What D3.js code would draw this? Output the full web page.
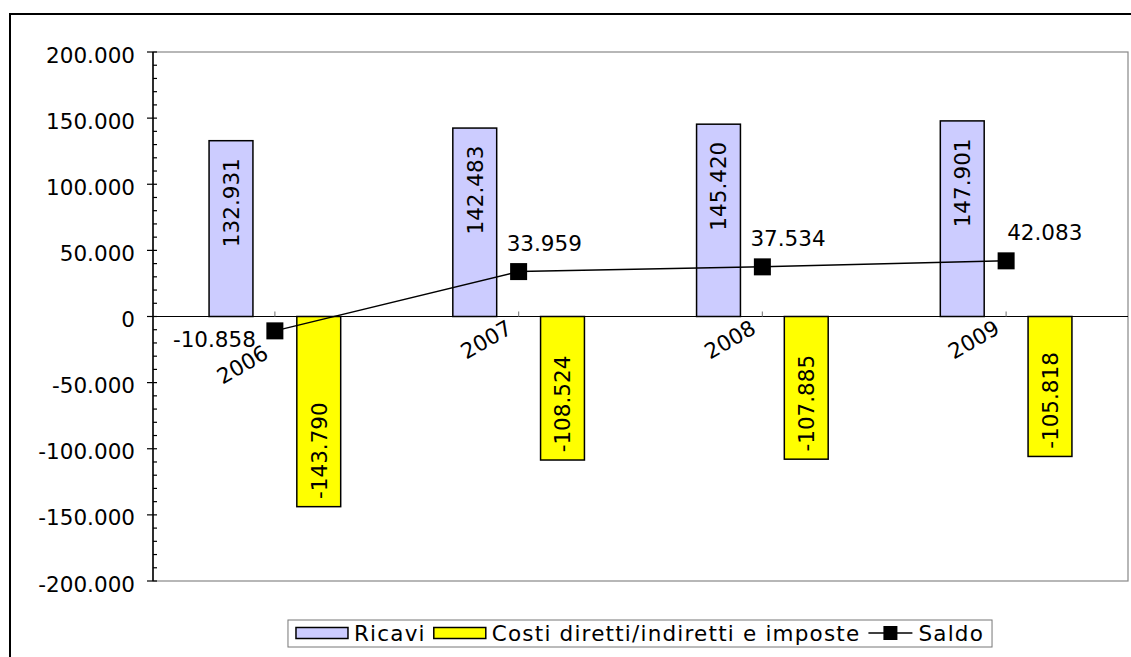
<!DOCTYPE html>
<html><head><meta charset="utf-8">
<script src="https://cdn.jsdelivr.net/npm/d3@7"></script>
<style>
html,body{margin:0;padding:0;background:#fff;}
text{font-family:"DejaVu Sans",Verdana,sans-serif;fill:#000;}
</style></head>
<body>
<svg id="chart" width="1131" height="657"></svg>
<script>
const years = ["2006","2007","2008","2009"];
const ricavi = [132931, 142483, 145420, 147901];
const costi = [-143790, -108524, -107885, -105818];
const saldo = [-10858, 33959, 37534, 42083];
const yTicks = [-200000,-150000,-100000,-50000,0,50000,100000,150000,200000];
const legendLabels = ["Ricavi","Costi diretti/indiretti e imposte","Saldo"];

const svg = d3.select("#chart");
const L = 153, R = 1128, T = 52, B = 581;
const FS = 21.5;
const loc = d3.formatLocale({decimal:",", thousands:".", grouping:[3], currency:["",""], minus:"-"});
const fmt = loc.format(",d");

const x = d3.scaleBand().domain(years).range([L,R]).padding(0);
const y = d3.scaleLinear().domain([-200000,200000]).range([B,T]);
const bw = x.bandwidth()*0.18;
const cx = d => x(d)+x.bandwidth()/2;

// outer frame
svg.append("rect").attr("x",10).attr("y",14).attr("width",1130).attr("height",660)
  .attr("fill","none").attr("stroke","#000").attr("stroke-width",2);

// plot area border (gray)
svg.append("rect").attr("x",L).attr("y",T).attr("width",R-L).attr("height",B-T)
  .attr("fill","#fff").attr("stroke","#888").attr("stroke-width",1.2);

// y axis
const yAxis = d3.axisLeft(y).tickValues(yTicks).tickSize(0).tickFormat(fmt);
const gy = svg.append("g").attr("transform",`translate(${L},0)`).call(yAxis);
gy.select(".domain").remove();
gy.selectAll("text").attr("x",-18).attr("dy","0.47em").style("font-size",FS+"px")
  .style("font-family","'DejaVu Sans',Verdana,sans-serif").attr("fill","#000");
svg.append("g").selectAll("line").data(yTicks).join("line")
  .attr("x1",L-6).attr("x2",L+4).attr("y1",d=>y(d)).attr("y2",d=>y(d))
  .attr("stroke","#000").attr("stroke-width",1.2);
const minor = d3.range(-200000,200001,10000).filter(v=>v%50000!==0);
svg.append("g").selectAll("line").data(minor).join("line")
  .attr("x1",L).attr("x2",L+4).attr("y1",d=>y(d)).attr("y2",d=>y(d))
  .attr("stroke","#000").attr("stroke-width",1.2);
svg.append("line").attr("x1",L).attr("x2",L).attr("y1",T).attr("y2",B)
  .attr("stroke","#000").attr("stroke-width",1.5);

// bars
svg.append("g").selectAll("rect").data(years).join("rect")
  .attr("x",d=>cx(d)-1.5*bw).attr("width",bw)
  .attr("y",(d,i)=>y(ricavi[i])).attr("height",(d,i)=>y(0)-y(ricavi[i]))
  .attr("fill","#CCCCFF").attr("stroke","#000").attr("stroke-width",1.5);
svg.append("g").selectAll("rect").data(years).join("rect")
  .attr("x",d=>cx(d)+0.5*bw).attr("width",bw)
  .attr("y",y(0)).attr("height",(d,i)=>y(costi[i])-y(0))
  .attr("fill","#FFFF00").attr("stroke","#000").attr("stroke-width",1.5);

// zero line
svg.append("line").attr("x1",L).attr("x2",R).attr("y1",y(0)).attr("y2",y(0))
  .attr("stroke","#000").attr("stroke-width",1.2);
svg.append("g").selectAll("line").data(years).join("line")
  .attr("x1",d=>cx(d)).attr("x2",d=>cx(d)).attr("y1",y(0)-5).attr("y2",y(0))
  .attr("stroke","#888").attr("stroke-width",1.2);

// bar labels
svg.append("g").selectAll("text").data(years).join("text")
  .attr("transform",(d,i)=>`translate(${cx(d)-bw},${y(ricavi[i])+62}) rotate(-90)`)
  .attr("text-anchor","middle").attr("dy","0.36em").style("font-size",FS+"px")
  .text((d,i)=>fmt(ricavi[i]));
svg.append("g").selectAll("text").data(years).join("text")
  .attr("transform",(d,i)=>`translate(${cx(d)+bw},${y(costi[i])-56}) rotate(-90)`)
  .attr("text-anchor","middle").attr("dy","0.36em").style("font-size",FS+"px")
  .text((d,i)=>fmt(costi[i]));

// category labels
svg.append("g").selectAll("text").data(years).join("text")
  .attr("transform",(d,i)=>`translate(${cx(d)-13},${y(0)+(i===0?27:2)}) rotate(-30)`)
  .attr("text-anchor","end").attr("dy","0.75em").style("font-size",FS+"px")
  .text(d=>d);

// saldo line
const line = d3.line().x((d,i)=>cx(years[i])).y(d=>y(d));
svg.append("path").datum(saldo).attr("d",line).attr("fill","none")
  .attr("stroke","#000").attr("stroke-width",1.5);
svg.append("g").selectAll("rect").data(saldo).join("rect")
  .attr("x",(d,i)=>cx(years[i])-8.5).attr("y",d=>y(d)-8.5)
  .attr("width",17).attr("height",17).attr("fill","#000");
const sdx = [-19, -12, -12, 1];
svg.append("g").selectAll("text").data(saldo).join("text")
  .attr("x",(d,i)=>cx(years[i])+sdx[i])
  .attr("y",(d,i)=> i===0 ? y(d)+16 : y(d)-21)
  .attr("text-anchor",(d,i)=>i===0?"end":"start")
  .style("font-size",FS+"px")
  .text(d=>fmt(d));

// legend
const LFS = "21.5px", LLS = "1.2px";
const lg = svg.append("g");
const ly = 633;
let lx = 0;
const items = lg.append("g");
const addText = (s) => {
  const t = items.append("text").attr("x",lx).attr("y",ly).attr("dy","0.36em")
    .style("font-size",LFS).style("letter-spacing",LLS).text(s);
  lx += t.node().getComputedTextLength();
};
items.append("rect").attr("x",lx).attr("y",ly-5.5).attr("width",52).attr("height",11)
  .attr("fill","#CCCCFF").attr("stroke","#000").attr("stroke-width",1.5);
lx += 58;
addText(legendLabels[0]);
lx += 8;
items.append("rect").attr("x",lx).attr("y",ly-5.5).attr("width",52).attr("height",11)
  .attr("fill","#FFFF00").attr("stroke","#000").attr("stroke-width",1.5);
lx += 58;
addText(legendLabels[1]);
lx += 8;
items.append("line").attr("x1",lx).attr("x2",lx+44).attr("y1",ly).attr("y2",ly)
  .attr("stroke","#000").attr("stroke-width",1.5);
items.append("rect").attr("x",lx+22-7).attr("y",ly-7).attr("width",14).attr("height",14).attr("fill","#000");
lx += 50;
addText(legendLabels[2]);
const boxW = lx + 16;
const bx = 640 - boxW/2;
lg.insert("rect",":first-child").attr("x",bx).attr("y",620).attr("width",boxW).attr("height",27)
  .attr("fill","#fff").attr("stroke","#777").attr("stroke-width",1);
items.attr("transform",`translate(${bx+8},0)`);
</script>
</body></html>
